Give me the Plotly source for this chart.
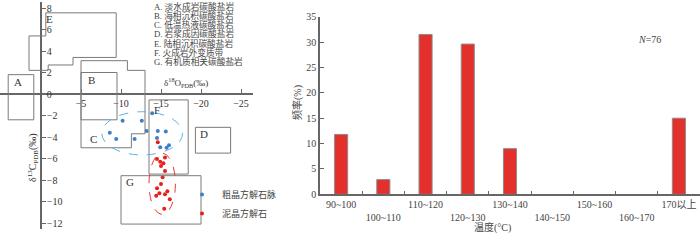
import plotly.graph_objects as go

W, H = 700, 242
def xp(px): return px / W
def yp(py): return 1 - py / H

FONT = "Liberation Serif, Times New Roman, Noto Sans CJK SC, serif"

# ---------------- left panel data ----------------
o18_ticks = [5, 0, -5, -10, -15, -20, -25]
o18_ticktext = ["5", "0", "−5", "−10", "−15", "−20", "−25"]
c13_ticks = [8, 6, 4, 2, 0, -2, -4, -6, -8, -10, -12]
c13_ticktext = ["8", "6", "4", "2", "0", "−2", "−4", "−6", "−8", "−10", "−12"]

field_A = [(4.1, 1.8), (0.9, 1.8), (0.9, -2.4), (4.1, -2.4)]
field_B = [(-5, 2.0), (-9.5, 2.0), (-9.5, -2.4), (-5, -2.4)]
field_C = [(-5, 3.1), (-10.8, 3.1), (-10.8, 2.2), (-13, 2.2), (-13, -3.7),
           (-11.3, -3.7), (-11.3, -5.0), (-5, -5.0)]
field_D = [(-19.3, -3.1), (-23.7, -3.1), (-23.7, -5.5), (-19.3, -5.5)]
field_E = [(-0.6, 7.55), (-9.4, 7.55), (-9.4, 3.4), (-4.0, 3.4), (-4.0, 2.7),
           (-0.9, 2.7), (-0.9, 2.2), (1.5, 2.2), (1.5, 5.4), (-0.6, 5.4)]
field_F = [(-13.5, -0.55), (-18.4, -0.55), (-18.4, -7.45), (-13.5, -7.45)]
field_G = [(-10.0, -7.6), (-20.0, -7.6), (-20.0, -12.1), (-10.0, -12.1)]
field_labels = ["A", "B", "C", "D", "E", "F", "G"]
field_label_x = [2.9, -6.3, -6.6, -20.4, -1.1, -14.5, -11.1]
field_label_y = [1.1, 1.3, -4.2, -3.7, 7.0, -1.5, -8.2]

legend_lines = ["A. 淡水成岩碳酸盐岩", "B. 海相沉积碳酸盐岩", "C. 低温热液碳酸盐岩",
                "D. 岩浆成因碳酸盐岩", "E. 陆相沉积碳酸盐岩", "F. 火成岩外变质带",
                "G. 有机质相关碳酸盐岩"]

vein_o18 = [-10.2, -12.6, -8.6, -9.4, -11.7, -13.2, -14.6, -15.6, -14.5, -14.9, -15.7, -16.0, -13.9]
vein_c13 = [-2.48, -2.48, -3.6, -4.19, -4.19, -3.44, -3.44, -3.5, -4.1, -4.96, -5.0, -4.77, -1.8]
micrite_o18 = [-14.6, -14.5, -14.9, -15.5, -15.3, -15.0, -15.5, -15.2, -15.0, -14.5,
               -14.8, -14.4, -15.5, -15.8, -16.1, -15.4]
micrite_c13 = [-4.5, -6.05, -6.3, -5.9, -6.45, -6.7, -7.16, -7.75, -8.37, -8.77,
               -9.24, -9.46, -9.33, -9.05, -9.8, -10.67]

vein_ellipse = [-7.6, -17.7, -1.65, -5.67]     # x0, x1, y0, y1
micrite_ellipse = [-13.5, -16.8, -5.5, -11.2]

# ---------------- right panel data ----------------
temp_bins = ["90~100", "100~110", "110~120", "120~130", "130~140",
             "140~150", "150~160", "160~170", "170以上"]
freq = [11.8, 2.9, 31.5, 29.6, 9.0, 0, 0, 0, 15.0]
freq_ticks = [0, 5, 10, 15, 20, 25, 30, 35]

fig = go.Figure()

fig.add_trace(go.Scatter(x=vein_o18, y=vein_c13, mode="markers", name="粗晶方解石脉",
                         marker=dict(color="#3f7fc8", size=4), xaxis="x", yaxis="y"))
fig.add_trace(go.Scatter(x=micrite_o18, y=micrite_c13, mode="markers", name="泥晶方解石",
                         marker=dict(color="#e8201c", size=4), xaxis="x", yaxis="y"))

fig.add_trace(go.Bar(x=temp_bins, y=freq, width=0.31, showlegend=False,
                     marker=dict(color="#e4302b",
                                 line=dict(color="#8c8c8c",
                                           width=[1 if v > 0 else 0 for v in freq])),
                     xaxis="x2", yaxis="y2"))

shapes = []
for poly in [field_A, field_B, field_C, field_D, field_E, field_F, field_G]:
    path = "M " + " L ".join(f"{x},{y}" for x, y in poly) + " Z"
    shapes.append(dict(type="path", path=path, xref="x", yref="y",
                       line=dict(color="#7a7a7a", width=1)))
for ell, col in [(vein_ellipse, "#5ab4e6"), (micrite_ellipse, "#ee3a36")]:
    shapes.append(dict(type="circle", xref="x", yref="y", x0=ell[0], x1=ell[1],
                       y0=ell[2], y1=ell[3], line=dict(color=col, width=1, dash="dash")))

ann = []
for lab, x, y in zip(field_labels, field_label_x, field_label_y):
    ann.append(dict(text=lab, x=x, y=y, xref="x", yref="y", showarrow=False,
                    font=dict(size=11, color="#333")))
for i, t in enumerate(legend_lines):
    ann.append(dict(text=t, x=xp(152), y=yp(6 + 9.3 * i), xref="paper", yref="paper",
                    xanchor="left", yanchor="middle", showarrow=False,
                    font=dict(size=8.7, color="#444")))
ann.append(dict(text="δ<sup>18</sup>O<sub>PDB</sub>(‰)", x=xp(162), y=yp(82), xanchor="left",
                xref="paper", yref="paper", showarrow=False, font=dict(size=9, color="#333")))
ann.append(dict(text="δ<sup>13</sup>C<sub>PDB</sub>(‰)", x=xp(24), y=yp(158), textangle=-90,
                xref="paper", yref="paper", showarrow=False, font=dict(size=10, color="#333")))
ann.append(dict(text="频率(%)", x=xp(297), y=yp(103), textangle=-90,
                xref="paper", yref="paper", showarrow=False, font=dict(size=10, color="#444")))
ann.append(dict(text="温度(°C)", x=xp(513), y=yp(236), xref="paper", yref="paper",
                showarrow=False, font=dict(size=10, color="#444")))
ann.append(dict(text="<i>N</i>=76", x=xp(663), y=yp(32), xref="paper", yref="paper",
                showarrow=False, font=dict(size=10, color="#444")))

axcol = "#666"
yr = [-12.6, 8.6]
fig.update_layout(
    width=W, height=H, margin=dict(l=0, r=0, t=0, b=0, autoexpand=False),
    paper_bgcolor="white", plot_bgcolor="rgba(0,0,0,0)",
    font=dict(family=FONT, size=10, color="#333"),
    xaxis=dict(domain=[0, xp(253)], range=[5.125, -26.5], anchor="free", position=yp(94),
               showline=True, linecolor=axcol, linewidth=1.5, showgrid=False, zeroline=False,
               tickvals=o18_ticks, ticktext=o18_ticktext, ticks="inside", ticklen=4,
               tickangle=0, automargin=False,
               tickcolor=axcol, tickfont=dict(size=10, color="#333")),
    yaxis=dict(domain=[yp(94 - 10.75 * yr[0]), yp(94 - 10.75 * yr[1])], range=yr,
               anchor="free", position=xp(41),
               showline=True, linecolor=axcol, linewidth=1.5, showgrid=False, zeroline=False,
               tickvals=c13_ticks, ticktext=c13_ticktext, ticks="inside", ticklen=4,
               automargin=False,
               ticklabelposition="inside", tickcolor=axcol, tickfont=dict(size=10, color="#333")),
    xaxis2=dict(domain=[xp(320), 1], range=[-0.5, 8.5], anchor="y2", type="category",
                showline=True, linecolor=axcol, linewidth=1.5, showgrid=False,
                ticks="inside", tickson="boundaries", ticklen=4, tickcolor=axcol,
                tickangle=0, automargin=False,
                tickvals=temp_bins,
                ticktext=[t if i % 2 == 0 else "<br>" + t for i, t in enumerate(temp_bins)],
                tickfont=dict(size=10, color="#444")),
    yaxis2=dict(domain=[yp(194.3), yp(16.7)], range=[0, 35], anchor="x2",
                showline=True, linecolor=axcol, linewidth=1.5, showgrid=False, zeroline=False,
                tickvals=freq_ticks, ticks="inside", ticklen=4, tickcolor=axcol,
                automargin=False,
                tickfont=dict(size=10, color="#444")),
    shapes=shapes, annotations=ann,
    showlegend=True,
    legend=dict(x=xp(182), y=yp(180), xanchor="left", yanchor="top",
                font=dict(size=9, color="#444"), bgcolor="rgba(0,0,0,0)",
                itemwidth=30, tracegroupgap=0),
)

fig.write_html("out.html", config={"displayModeBar": False},
               post_script="document.body.style.margin='0';document.body.style.overflow='hidden';")
